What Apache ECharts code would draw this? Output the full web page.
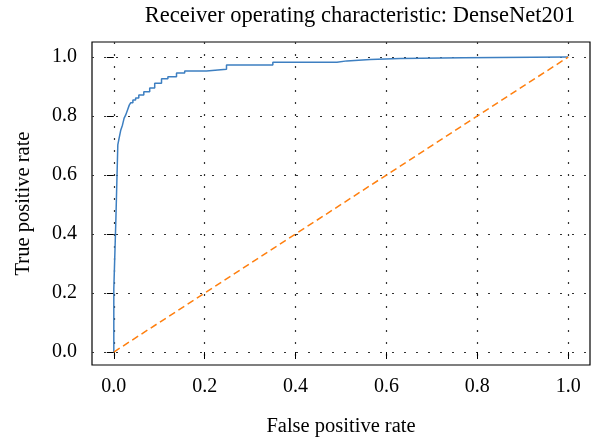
<!DOCTYPE html>
<html>
<head>
<meta charset="utf-8">
<script src="https://cdn.jsdelivr.net/npm/echarts@6/dist/echarts.min.js"></script>
<style>
  html, body { margin: 0; padding: 0; background: #fff; }
  #chart { width: 594px; height: 439px; }
</style>
</head>
<body>
<div id="chart"></div>
<script>
// ROC curve: x of each vertical rise and the tpr reached there
var fpr = [0, 0, 0.0044, 0.0088, 0.0117, 0.0154, 0.019, 0.0227, 0.026, 0.030, 0.034, 0.037,
  0.042, 0.048, 0.055, 0.066, 0.079, 0.090, 0.105, 0.119, 0.138, 0.156, 0.204, 0.248,
  0.350, 0.491, 0.513, 0.564, 0.630, 0.769, 1.0]
var tpr = [0, 0.214, 0.441, 0.702, 0.725, 0.753, 0.769, 0.793, 0.803, 0.820, 0.837, 0.845,
  0.854, 0.861, 0.871, 0.882, 0.895, 0.911, 0.926, 0.933, 0.946, 0.953, 0.959, 0.973,
  0.982, 0.987, 0.992, 0.995, 0.998, 1.0, 1.0]
var chanceX = [0, 1]
var chanceY = [0, 1]
var ticks = [0, 0.2, 0.4, 0.6, 0.8, 1.0]

var serif = 'Liberation Serif'
var chart = echarts.init(document.getElementById('chart'))

function axisBits (labelGap) {
  return {
    axisLine: { show: false },
    axisTick: { show: true, inside: false, length: 7, customValues: ticks, lineStyle: { color: '#000', width: 1 } },
    axisLabel: {
      customValues: ticks, color: '#000', fontFamily: serif, fontSize: 20, margin: labelGap,
      formatter: function (v) { return v.toFixed(1) }
    },
    splitLine: { show: true, lineStyle: { color: '#333', width: 1.2, type: [2, 10] } },
    nameLocation: 'middle',
    nameTextStyle: { color: '#000', fontFamily: serif, fontSize: 20.5 }
  }
}

chart.setOption({
  animation: false,
  title: {
    text: 'Receiver operating characteristic: DenseNet201',
    left: 355, top: 0, textAlign: 'center',
    textStyle: { color: '#000', fontFamily: serif, fontSize: 22.5, fontWeight: 'normal' }
  },
  grid: {
    left: 92, top: 42, right: 4, bottom: 74, outerBoundsMode: 'none',
    show: true, borderColor: '#000', borderWidth: 1.2, backgroundColor: 'transparent'
  },
  xAxis: Object.assign(axisBits(12), { type: 'value', min: -0.048, max: 1.048, name: 'False positive rate', nameGap: 51 }),
  yAxis: Object.assign(axisBits(15), { type: 'value', min: -0.044, max: 1.051, name: 'True positive rate', nameGap: 58 }),
  series: [
    {
      type: 'line', step: 'end', symbol: 'none',
      data: fpr.map(function (x, i) { return [x, tpr[i]] }),
      lineStyle: { color: '#3d7fc1', width: 1.5 }
    },
    {
      type: 'line', symbol: 'none',
      data: chanceX.map(function (x, i) { return [x, chanceY[i]] }),
      lineStyle: { color: '#ff7f0e', width: 1.5, type: [7, 4] }
    }
  ]
})
</script>
</body>
</html>
